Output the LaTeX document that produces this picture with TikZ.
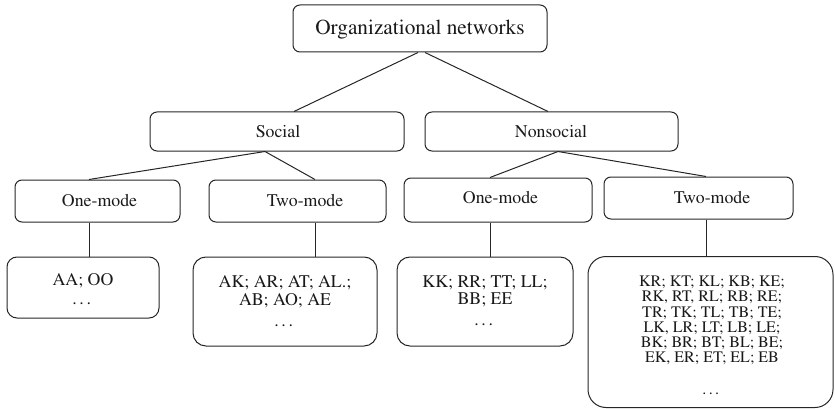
\documentclass[tikz,border=0pt]{standalone}
\usepackage[T1]{fontenc}
\usepackage{times}

\begin{document}
\begin{tikzpicture}[x=1pt, y=-1pt,
	box/.style={draw=black!85, line width=1pt, rounded corners=7pt, inner sep=0pt},
	leafbox/.style={box, rounded corners=13pt},
	lbl/.style={inner sep=0pt, anchor=base, text=black!90, font=\fontsize{17.8}{17.5}\selectfont},
	leaflbl/.style={lbl, anchor=north, align=center},
	link/.style={draw=black!85, line width=1pt}]
			%%%%% START %%%%%
			
			\useasboundingbox (0, 0) rectangle (835, 409);
			
			\node[box, minimum width=254pt, minimum height=47pt] (root) at (420, 28.5) {};
			\node[lbl, font=\fontsize{21.3}{24}\selectfont] (root-text) at (420, 35) {Organizational networks};
			
			\node[box, minimum width=254pt, minimum height=39pt] (social) at (277, 131.5) {};
			\node[lbl] (social-text) at (278, 138) {Social};
			\node[box, minimum width=253pt, minimum height=39pt] (nonsocial) at (551.5, 131.5) {};
			\node[lbl] (nonsocial-text) at (551, 138) {Nonsocial};
			
			\node[box, minimum width=165pt, minimum height=42pt] (onemodeS) at (97.5, 201) {};
			\node[lbl] (onemodeS-text) at (99.5, 206) {One-mode};
			\node[box, minimum width=177pt, minimum height=42pt] (twomodeS) at (297.5, 201) {};
			\node[lbl] (twomodeS-text) at (305, 206) {Two-mode};
			\node[box, minimum width=188pt, minimum height=44pt] (onemodeN) at (498, 200) {};
			\node[lbl] (onemodeN-text) at (500.5, 203.3) {One-mode};
			\node[box, minimum width=189pt, minimum height=42pt] (twomodeN) at (698.5, 198) {};
			\node[lbl] (twomodeN-text) at (712, 203.3) {Two-mode};
			
			\node[leafbox, rounded corners=10pt, minimum width=152pt, minimum height=61pt] (aa) at (83, 287.5) {};
			\node[leaflbl] (aa-text) at (83, 273.3) {AA; OO\\[1.5pt]\ldots};
			\node[leafbox, minimum width=184pt, minimum height=89pt] (ak) at (285, 301.5) {};
			\node[leaflbl] (ak-text) at (285, 275.7) {AK; AR; AT; AL.;\\AB; AO; AE\\[3.5pt]\ldots};
			\node[leafbox, minimum width=176pt, minimum height=89pt] (kk) at (485, 301.5) {};
			\node[leaflbl] (kk-text) at (485, 275.7) {KK; RR; TT; LL;\\BB; EE\\[3.5pt]\ldots};
			\node[leafbox, rounded corners=18pt, minimum width=245pt, minimum height=151pt] (kr) at (710.5, 332) {};
			\node[leaflbl, font=\fontsize{16}{15.2}\selectfont] (kr-text) at (712, 276) {KR; KT; KL; KB; KE;\\RK, RT, RL; RB; RE;\\TR; TK; TL; TB; TE;\\LK, LR; LT; LB; LE;\\BK; BR; BT; BL; BE;\\EK, ER; ET; EL; EB\\[17pt]\ldots};
			
			\draw[link] ([xshift=-2pt]root.south) -- ([xshift=17pt]social.north);
			\draw[link] ([xshift=5pt]root.south) -- ([xshift=-3.5pt]nonsocial.north);
			
			\draw[link] ([xshift=-12pt]social.south) -- ([xshift=-8.5pt]onemodeS.north);
			\draw[link] ([xshift=-12pt]social.south) -- ([xshift=17.5pt]twomodeS.north);
			\draw[link] ([xshift=6.5pt]nonsocial.south) -- ([xshift=-8pt]onemodeN.north);
			\draw[link] ([xshift=6.5pt]nonsocial.south) -- ([xshift=7.5pt]twomodeN.north);
			
			\draw[link] ([xshift=-8.5pt]onemodeS.south) -- ([xshift=6pt]aa.north);
			\draw[link] ([xshift=17.5pt]twomodeS.south) -- ([xshift=30pt]ak.north);
			\draw[link] ([xshift=-8pt]onemodeN.south) -- ([xshift=5pt]kk.north);
			\draw[link] ([xshift=7.5pt]twomodeN.south) -- ([xshift=-4.5pt]kr.north);
			
			%%%%% END %%%%%
		\end{tikzpicture}
\end{document}
